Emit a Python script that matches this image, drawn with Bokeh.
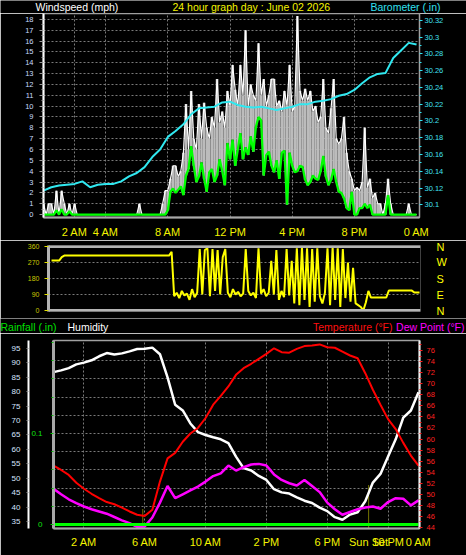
from bokeh.plotting import figure
from bokeh.models import Range1d, LinearAxis, FixedTicker, Span, Grid
from bokeh.layouts import column
from bokeh.embed import file_html
from bokeh.resources import INLINE
from bokeh.core.properties import value

FONT = "Liberation Sans"
W = 466

# ---------------- data ----------------
# sample times (hours after midnight)
t10 = [i / 6 for i in range(145)]   # 10-minute samples
t30 = [i / 2 for i in range(49)]    # 30-minute samples

wind_gust = [1, 0, 1, 1, 0, 2.2, 0, 2.2, 1, 0, 1, 0, 1,
             0, 0, 0, 0, 0, 0, 0, 0, 0, 0, 0, 0, 0, 0, 0, 0, 0, 0, 0, 0, 0, 0, 0, 0,
             1, 0, 0, 0, 0, 0, 0, 0, 0, 1, 2.2,
             2.2, 3.3, 4.5, 4.5, 3.5, 4.0, 5.7, 10.2, 6.0, 11.4, 7.0, 6.0, 10.2, 7.0, 10.3, 8.0,
             7.0, 9.0, 8.0, 12.5, 8.5, 9.5, 8.0, 11.4, 10.0, 13.8, 11.5, 10.0, 13.8, 11.0, 17.0, 10.0,
             12.0, 11.0, 10.5, 15.8, 11.0, 12.5, 10.0, 11.0, 12.5, 12.5, 10.0, 10.5, 9.5, 11.4, 10.0, 13.8,
             9.5, 10.0, 18.3, 11.4, 10.5, 11.6, 10.5, 11.4, 9.5, 10.0, 8.5, 9.0, 12.5, 8.0, 7.5, 9.8,
             12.5, 7.0, 6.5, 7.0, 9.0, 5.7, 4.0, 3.3, 2.2, 2.5, 2.2, 3.0, 8.0, 2.5, 3.3, 1.5,
             2.0, 1.0, 1.0, 0, 1.0, 3.3, 1.0, 0, 0, 0, 0, 0, 0, 1.0, 0, 0, 0]

wind_avg = [0, 0, 0, 0, 0, 0.4, 0, 0.5, 0, 0, 0.3,
            0, 0, 0, 0, 0, 0, 0, 0, 0, 0, 0, 0, 0, 0, 0, 0, 0, 0, 0, 0, 0, 0, 0, 0, 0, 0,
            0, 0, 0, 0, 0, 0, 0, 0, 0, 0, 0,
            0.4, 2.1, 2.4, 2.0, 2.3, 2.6, 1.8, 3.6, 4.2, 6.3, 4.5, 3.0, 3.5, 4.8, 3.3, 2.1,
            3.9, 4.2, 3.0, 3.6, 5.1, 4.0, 2.7, 6.6, 5.1, 6.9, 4.5, 6.0, 7.5, 5.1, 6.2, 5.5,
            7.2, 5.8, 8.1, 9.0, 8.7, 3.6, 5.5, 5.8, 4.5, 3.9, 5.0, 3.3, 5.7, 5.9, 0.9, 5.7,
            4.5, 3.9, 4.0, 4.5, 4.4, 3.2, 2.7, 3.0, 3.6, 3.3, 3.2, 4.0, 5.4, 3.5, 2.7, 3.2,
            4.2, 3.0, 2.1, 2.0, 1.5, 0.6, 0.4, 2.1, 0, 0, 0.6, 0.6, 1.0, 0.6, 0.9,
            0, 0, 0, 0, 0, 0, 1.8, 0, 0, 0, 0, 0, 0, 0, 0, 0, 0, 0]

wind_dir = [281, 281, 281, 281, 300,
            309, 309, 309, 309, 309, 309, 309, 309, 309, 309, 309, 309, 309, 309,
            309, 309, 309, 309, 309, 309, 309, 309, 309, 309, 309, 309, 309, 309,
            309, 309, 309, 309, 309, 309, 309, 309, 309, 309, 309, 309, 309, 309,
            330,
            80, 100, 70, 110, 85, 95, 60, 120, 75, 100, 345, 90, 340, 350, 80, 345,
            110, 340, 90, 300, 345, 100, 75, 120, 90, 105, 80, 95, 345, 110, 85, 100,
            70, 350, 95, 120, 80, 100, 280, 90, 340, 60, 110, 75, 345, 85, 280, 40,
            350, 30, 355, 60, 350, 20, 345, 50, 350, 80, 40, 100, 350, 30, 355, 60,
            350, 20, 345, 70, 270, 50, 240, 40, 30, 20, 0, 45, 110,
            73, 73, 73, 73, 73, 73, 73,
            112, 112, 112, 112, 112, 112, 112, 112, 112, 112,
            101, 101, 101]

barometer = [30.117, 30.121, 30.123, 30.124, 30.125, 30.128, 30.121, 30.124, 30.125, 30.125,
             30.128, 30.134, 30.138, 30.145, 30.157, 30.166, 30.181, 30.188, 30.196, 30.208,
             30.215, 30.216, 30.217, 30.222, 30.223, 30.219, 30.217, 30.216, 30.217, 30.215,
             30.213, 30.215, 30.217, 30.220, 30.220, 30.223, 30.224, 30.226, 30.230, 30.232,
             30.237, 30.245, 30.252, 30.256, 30.257, 30.275, 30.284, 30.293, 30.291]

humidity = [86.8, 87.4, 88.2, 89.5, 90.1, 90.9, 92.3, 93.4, 92.9, 93.3,
            94.0, 94.8, 94.9, 95.3, 93.0, 85.0, 75.5, 73.5, 69.0, 66.0,
            65.0, 64.2, 63.5, 62.2, 57.5, 53.5, 52.7, 50.8, 49.4, 46.2,
            45.1, 44.7, 43.4, 42.2, 41.4, 39.8, 38.6, 36.5, 35.6, 37.4,
            38.2, 42.0, 48.5, 51.5, 57.5, 63.5, 71.0, 73.5, 79.8]

temperature = [55.2, 54.4, 53.5, 52.1, 51.0, 50.1, 49.3, 48.6, 48.2, 47.6,
               46.9, 46.3, 46.1, 47.2, 52.3, 56.5, 57.5, 59.5, 61.0, 62.0,
               63.8, 66.2, 67.8, 69.5, 71.6, 72.8, 73.6, 74.5, 75.4, 76.4,
               75.7, 75.6, 76.3, 76.8, 76.9, 77.1, 76.6, 76.5, 75.8, 75.1,
               74.6, 71.9, 68.9, 66.2, 63.6, 61.8, 59.3, 57.0, 55.2]

dew_point = [51.0, 50.0, 49.1, 48.4, 47.8, 47.3, 46.9, 46.5, 45.9, 45.3,
             44.8, 44.1, 44.2, 45.8, 48.5, 51.5, 49.3, 50.0, 50.7, 51.4,
             52.3, 53.3, 53.8, 55.2, 54.3, 54.9, 55.4, 55.5, 55.2, 53.6,
             52.6, 52.0, 51.6, 52.6, 51.5, 50.4, 48.5, 47.3, 46.3, 46.8,
             47.3, 47.6, 47.8, 47.4, 48.6, 49.3, 49.2, 48.0, 48.9]

rain_t = [0, 24]
rainfall = [0.0, 0.0]

sun_hours = [5.87, 20.72]     # sunrise, sunset
sun_tops = [47.3, 51.6]       # height of the sun markers (deg F scale)

top_ticks = [2, 4, 8, 12, 16, 20, 24]
top_labels = ["2 AM", "4 AM", "8 AM", "12 PM", "4 PM", "8 PM", "0 AM"]
bot_ticks = [2, 6, 10, 14, 18, sun_hours[1], 22, 24]
bot_labels = ["2 AM", "6 AM", "10 AM", "2 PM", "6 PM", "Sun Set", "10 PM", "0 AM"]
ws_ticks = list(range(0, 19))
baro_ticks = [30.10, 30.12, 30.14, 30.16, 30.18, 30.20, 30.22, 30.24, 30.26, 30.28, 30.30, 30.32]
baro_labels = ["30.1", "30.12", "30.14", "30.16", "30.18", "30.2", "30.22", "30.24",
               "30.26", "30.28", "30.3", "30.32"]
dir_ticks = [0, 90, 180, 270, 360]
dir_names = ["N", "E", "S", "W", "N"]
hum_ticks = [35, 40, 45, 50, 55, 60, 65, 70, 75, 80, 85, 90, 95]
rain_ticks = [0, 0.1]
rain_minor = [0.02, 0.04, 0.06, 0.08, 0.12, 0.14, 0.16, 0.18, 0.2]
temp_ticks = [44, 46, 48, 50, 52, 54, 56, 58, 60, 62, 64, 66, 68, 70, 72, 74, 76]

GRID = "#7a7a7a"
YELLOW = "#f4f400"


def make_fig(height, xr, yr, left, right, top, bottom):
    p = figure(width=W, height=height, x_range=xr, y_range=yr, output_backend="svg",
               toolbar_location=None, x_axis_location=None, y_axis_location=None,
               min_border_left=left, min_border_right=right,
               min_border_top=top, min_border_bottom=bottom,
               background_fill_color="black", border_fill_color="black",
               outline_line_color=None)
    p.xgrid.visible = False
    p.ygrid.visible = False
    return p


def style_axis(ax, color, size, standoff, tick_color=None, tick_out=3, line_color=None, line_width=1):
    ax.major_label_text_color = color
    ax.major_label_text_font = FONT
    ax.major_label_text_font_size = size
    ax.major_label_standoff = standoff
    ax.major_tick_line_color = tick_color
    ax.major_tick_out = tick_out
    ax.major_tick_in = 0
    ax.minor_tick_line_color = tick_color
    ax.minor_tick_out = 2
    ax.minor_tick_in = 0
    ax.axis_line_color = line_color
    ax.axis_line_width = line_width


def header(height, items, ty):
    h = figure(width=W, height=height, x_range=Range1d(0, W), y_range=Range1d(0, height),
               output_backend="svg", toolbar_location=None,
               x_axis_location=None, y_axis_location=None, min_border=0,
               min_border_left=0, min_border_right=0, min_border_top=0, min_border_bottom=0,
               background_fill_color="black", border_fill_color="black",
               outline_line_color=None)
    h.xgrid.visible = False
    h.ygrid.visible = False
    for x, txt, col, align in items:
        h.text(x=[x], y=[ty], text=[txt], text_color=col, text_font=value(FONT),
               text_font_size="10.5px", text_align=align, text_baseline="middle")
    return h


# ---------------- header ----------------
h1 = header(13, [(35, "Windspeed (mph)", "white", "left"),
                 (172, "24 hour graph day : June 02 2026", YELLOW, "left"),
                 (440, "Barometer (.in)", "#30e0f0", "right")], 6.5)

# ---------------- wind speed / barometer ----------------
p1 = make_fig(227, Range1d(0, 24.19), Range1d(-0.27, 18.54), 43, 47, 0, 20)
p1.extra_y_ranges = {"baro": Range1d(30.085, 30.328)}
p1.outline_line_color = "#a0a0a0"
p1.outline_line_width = 1.5
p1.add_layout(Grid(dimension=1, ticker=FixedTicker(ticks=ws_ticks[1:]),
                   grid_line_color=GRID, grid_line_dash="2 2"))
p1.add_layout(Grid(dimension=0, ticker=FixedTicker(ticks=top_ticks[:-1]),
                   grid_line_color=GRID, grid_line_dash="2 2"))
p1.vbar(x=t10, bottom=wind_avg, top=wind_gust, width=1 / 6, fill_color="#bcbcbc", line_color=None)
p1.line(t10, wind_gust, line_color="#ffffff", line_width=1.2)
p1.line(t10, wind_avg, line_color="#00ff00", line_width=2.3)
p1.line(t30, barometer, line_color="#30e8f0", line_width=2, y_range_name="baro")

ax = LinearAxis(ticker=FixedTicker(ticks=ws_ticks, minor_ticks=[v + 0.5 for v in ws_ticks[:-1]]))
style_axis(ax, "#c8dcff", "7.5px", 6, tick_color="#9a9a9a", tick_out=4, line_color="white", line_width=2)
p1.add_layout(ax, "left")
ax = LinearAxis(y_range_name="baro",
                ticker=FixedTicker(ticks=baro_ticks, minor_ticks=[round(v + 0.01, 2) for v in baro_ticks]),
                major_label_overrides=dict(zip(baro_ticks, baro_labels)))
style_axis(ax, "#40e0f0", "7.5px", 2, tick_color="#30e0f0", tick_out=3, line_color=None)
p1.add_layout(ax, "right")
ax = LinearAxis(ticker=FixedTicker(ticks=top_ticks), major_label_overrides=dict(zip(top_ticks, top_labels)))
style_axis(ax, YELLOW, "11px", 8, tick_color=None, tick_out=0, line_color="#a8a8a8", line_width=2)
p1.add_layout(ax, "below")

# ---------------- wind direction ----------------
p2 = make_fig(78, Range1d(-0.196, 24.065), Range1d(-5.6, 365.6), 48, 46, 5, 7)
p2.add_layout(Grid(dimension=1, ticker=FixedTicker(ticks=[90, 180, 270]),
                   grid_line_color=GRID, grid_line_dash="2 2"))
p2.add_layout(Span(location=0, dimension="width", line_color="#b4b4b4", line_width=3))
p2.add_layout(Span(location=360, dimension="width", line_color="#b4b4b4", line_width=3))
p2.line(t10, wind_dir, line_color="#ffff00", line_width=2)
ax = LinearAxis(ticker=FixedTicker(ticks=dir_ticks))
style_axis(ax, "#c8c800", "7px", 5, tick_color="#e0e000", tick_out=4, line_color="#b4b4b4", line_width=3)
p2.add_layout(ax, "left")
ax = LinearAxis(ticker=FixedTicker(ticks=dir_ticks), major_label_overrides=dict(zip(dir_ticks, dir_names)))
style_axis(ax, "#ffff00", "11px", 16, tick_color=None, tick_out=0, line_color=None)
p2.add_layout(ax, "right")

# ---------------- header 2 ----------------
h3 = header(15, [(0, "Rainfall (.in)", "#00e000", "left"),
                 (67, "Humidity", "white", "left"),
                 (392, "Temperature (\u00b0F)", "#ff1010", "right"),
                 (464, "Dew Point (\u00b0F)", "#ff00ff", "right")], 7)

# ---------------- rain / humidity / temperature ----------------
p3 = make_fig(222, Range1d(0, 24.066), Range1d(32.57, 97.77), 53, 47, 7, 27)
temp_range = Range1d(43.82, 77.81)
p3.extra_y_ranges = {"rain": Range1d(-0.0044, 0.2022), "temp": temp_range}
p3.outline_line_color = "#a0a0a0"
p3.outline_line_width = 1.5
p3.add_layout(Grid(dimension=1, y_range_name="rain",
                   ticker=FixedTicker(ticks=[0.02, 0.04, 0.06, 0.08, 0.1, 0.12, 0.14, 0.16, 0.18]),
                   grid_line_color=GRID, grid_line_dash="2 2"))
p3.add_layout(Grid(dimension=0, ticker=FixedTicker(ticks=[2, 6, 10, 14, 18, 22]),
                   grid_line_color=GRID, grid_line_dash="2 2"))
p3.segment(x0=sun_hours, y0=[temp_range.start] * 2, x1=sun_hours, y1=sun_tops,
           line_color="#e8e800", line_width=1, line_dash="1 1", y_range_name="temp")
p3.line(t30, humidity, line_color="white", line_width=2.5)
p3.line(t30, dew_point, line_color="#ff00ff", line_width=2.5, y_range_name="temp")
p3.line(t30, temperature, line_color="#ff0000", line_width=2, y_range_name="temp")
p3.line(rain_t, rainfall, line_color="#00ff00", line_width=3, y_range_name="rain")

ax = LinearAxis(y_range_name="rain", ticker=FixedTicker(ticks=rain_ticks, minor_ticks=rain_minor))
style_axis(ax, "#10e010", "8px", 8, tick_color="#10c010", tick_out=3, line_color="#a8a8a8", line_width=3)
p3.add_layout(ax, "left")
ax = LinearAxis(ticker=FixedTicker(ticks=hum_ticks))
style_axis(ax, "#d8e4ff", "8px", 6, tick_color="#909090", tick_out=2, line_color="white", line_width=2)
p3.add_layout(ax, "left")
ax = LinearAxis(y_range_name="temp",
                ticker=FixedTicker(ticks=temp_ticks, minor_ticks=[v + 1 for v in temp_ticks]))
style_axis(ax, "#ff2020", "7.5px", 4, tick_color="#ff2020", tick_out=3, line_color="#f0f0f0", line_width=2)
p3.add_layout(ax, "right")
ax = LinearAxis(ticker=FixedTicker(ticks=bot_ticks), major_label_overrides=dict(zip(bot_ticks, bot_labels)))
style_axis(ax, YELLOW, "11px", 7, tick_color=None, tick_out=0, line_color="#a8a8a8", line_width=2)
p3.add_layout(ax, "below")

# each panel in its own column so that Bokeh does not align the plot frames
layout = column(column(h1), column(p1), column(p2), column(h3), column(p3), spacing=0)

html = file_html(layout, INLINE, title="24 hour graph")
html = html.replace("<body>", '<body style="background-color:#000000;">', 1)
open("out.html", "w").write(html)
